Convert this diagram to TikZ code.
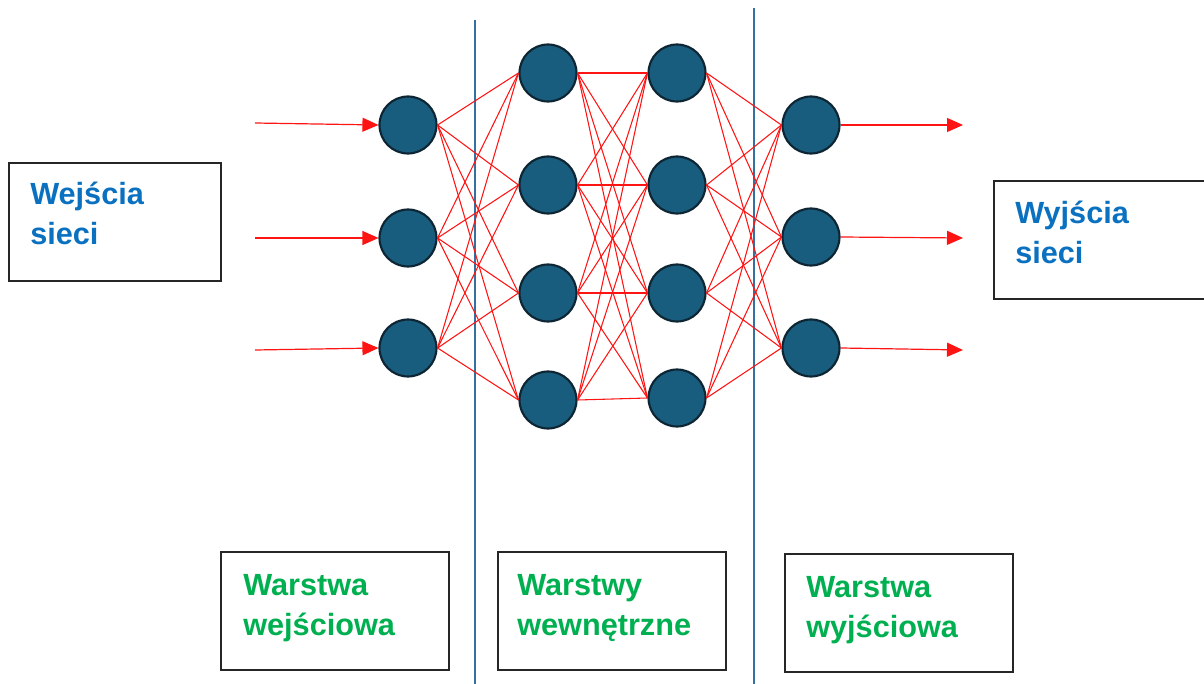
\documentclass[tikz,border=0pt]{standalone}
\usepackage{fontspec}
\setmainfont{Liberation Sans}
\usetikzlibrary{arrows.meta,calc}
\definecolor{neuronfill}{RGB}{24,92,126}
\definecolor{neuronedge}{RGB}{14,38,52}
\definecolor{sepline}{RGB}{52,112,160}
\definecolor{txtblue}{RGB}{10,112,192}
\definecolor{txtgreen}{RGB}{0,176,80}
\definecolor{linkred}{RGB}{255,20,20}
\begin{document}
\begin{tikzpicture}[x=0.75pt,y=-0.75pt,
  neuron/.style={circle,fill=neuronfill,draw=neuronedge,line width=1.6pt,minimum size=42.75pt,inner sep=0pt},
  link/.style={draw=linkred,line width=0.8pt},
  inarrow/.style={draw=linkred,line width=0.9pt,-{Triangle[length=12pt,width=10.5pt]}},
  sep/.style={draw=sepline,line width=1pt},
  labelbox/.style={draw=black!85,line width=1.4pt,rectangle,anchor=north west,inner sep=0pt,minimum height=88.5pt},
  lbl/.style={anchor=base west,inner sep=0pt,align=left,font=\fontsize{23pt}{30pt}\selectfont\bfseries},
]
\useasboundingbox (0,0) rectangle (1204,684);

% separators
\coordinate (s1t) at (475,20);
\coordinate (s1b) at (475,684);
\coordinate (s2t) at (754,8);
\coordinate (s2b) at (754,684);
\draw[sep] (s1t) -- (s1b);
\draw[sep] (s2t) -- (s2b);

% neurons
\node[neuron] (i1) at (408,125) {};
\node[neuron] (i2) at (408,238) {};
\node[neuron] (i3) at (408,348) {};
\node[neuron] (h1) at (548,73) {};
\node[neuron] (h2) at (548,185) {};
\node[neuron] (h3) at (548,293) {};
\node[neuron] (h4) at (548,400) {};
\node[neuron] (g1) at (677,73) {};
\node[neuron] (g2) at (677,185) {};
\node[neuron] (g3) at (677,293) {};
\node[neuron] (g4) at (677,398) {};
\node[neuron] (o1) at (811,125) {};
\node[neuron] (o2) at (811,237) {};
\node[neuron] (o3) at (811,348) {};

% links
\foreach \a in {1,2,3}
  \foreach \b in {1,2,3,4}
    \draw[link] (i\a.east) -- (h\b.west);
\foreach \a in {1,2,3,4}
  \foreach \b in {1,2,3,4}
    \draw[link] (h\a.east) -- (g\b.west);
\foreach \a in {1,2,3,4}
  \foreach \b in {1,2,3}
    \draw[link] (g\a.east) -- (o\b.west);

% input arrows
\coordinate (in1) at (255,123);
\coordinate (in2) at (255,238);
\coordinate (in3) at (255,350);
\draw[inarrow] (in1) -- (i1.west);
\draw[inarrow] (in2) -- (i2.west);
\draw[inarrow] (in3) -- (i3.west);

% output arrows
\coordinate (out1) at (963,125);
\coordinate (out2) at (963,238);
\coordinate (out3) at (963,350);
\draw[inarrow] (o1.east) -- (out1);
\draw[inarrow] (o2.east) -- (out2);
\draw[inarrow] (o3.east) -- (out3);

% boxes
\node[labelbox,minimum width=159pt] (bin) at (8,162) {};
\node[labelbox,minimum width=159pt] (bout) at (993,180) {};
\node[labelbox,minimum width=171pt] (bl1) at (220,551) {};
\node[labelbox,minimum width=171pt] (bl2) at (497,551) {};
\node[labelbox,minimum width=171pt] (bl3) at (784,553) {};

% texts (base anchor = baseline of last line)
\node[lbl,text=txtblue] (tin) at ($(bin.north west)+(22,83)$) {Wejścia\\sieci};
\node[lbl,text=txtblue] (tout) at ($(bout.north west)+(22,84)$) {Wyjścia\\sieci};
\node[lbl,text=txtgreen] (tl1) at ($(bl1.north west)+(23,84)$) {Warstwa\\wejściowa};
\node[lbl,text=txtgreen] (tl2) at ($(bl2.north west)+(20,84)$) {Warstwy\\wewnętrzne};
\node[lbl,text=txtgreen] (tl3) at ($(bl3.north west)+(22,84)$) {Warstwa\\wyjściowa};
\end{tikzpicture}
\end{document}
